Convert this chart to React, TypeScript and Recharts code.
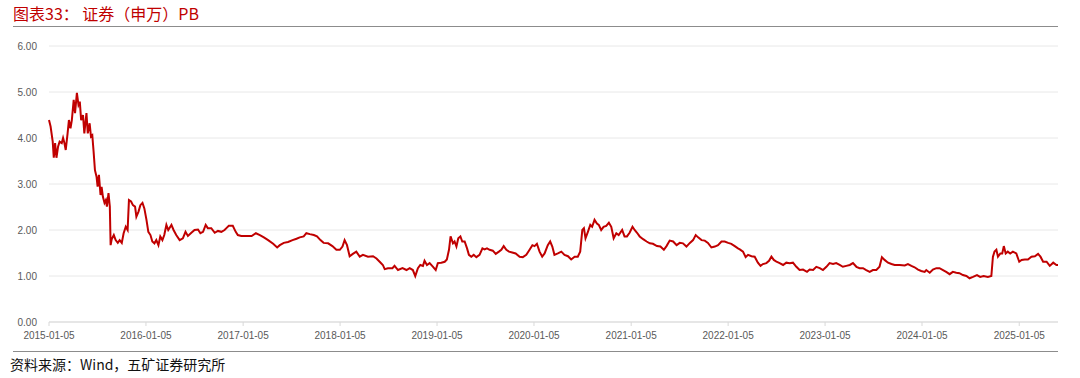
import React from 'react';
import { LineChart, Line, XAxis, YAxis, CartesianGrid } from 'recharts';

const dates: string[] = [
  '2015-01-05','2015-01-11','2015-01-19','2015-01-23','2015-01-28','2015-02-02','2015-02-08','2015-02-14','2015-02-22','2015-02-27',
  '2015-03-04','2015-03-09','2015-03-16','2015-03-21','2015-03-27','2015-04-01','2015-04-08','2015-04-13','2015-04-20','2015-04-26',
  '2015-05-01','2015-05-06','2015-05-13','2015-05-18','2015-05-26','2015-05-31','2015-06-07','2015-06-12','2015-06-17','2015-06-22',
  '2015-06-27','2015-07-03','2015-07-07','2015-07-12','2015-07-18','2015-07-22','2015-07-27','2015-08-02','2015-08-07','2015-08-11',
  '2015-08-17','2015-08-22','2015-08-25','2015-08-29','2015-09-06','2015-09-13','2015-09-21','2015-09-28','2015-10-06','2015-10-13',
  '2015-10-21','2015-10-28','2015-11-02','2015-11-10','2015-11-17','2015-11-25','2015-11-30','2015-12-08','2015-12-15','2015-12-23',
  '2015-12-30',
  '2016-01-07','2016-01-14','2016-01-22','2016-01-29','2016-02-06','2016-02-13','2016-02-21','2016-02-28','2016-03-07','2016-03-14',
  '2016-03-22','2016-03-29','2016-04-10','2016-04-18','2016-04-28','2016-05-11','2016-05-23','2016-06-02','2016-06-11','2016-06-24',
  '2016-07-06','2016-07-19','2016-07-28','2016-08-07','2016-08-17','2016-08-25','2016-09-07','2016-09-20','2016-10-02','2016-10-15',
  '2016-10-27','2016-11-03','2016-11-12','2016-11-27','2016-12-08','2016-12-16','2016-12-29',
  '2017-01-18','2017-02-06','2017-02-22','2017-03-09','2017-03-24','2017-04-09','2017-04-28','2017-05-13','2017-05-23','2017-06-07',
  '2017-06-23','2017-07-10','2017-07-25','2017-08-06','2017-08-21','2017-08-31','2017-09-13','2017-09-28','2017-10-10','2017-10-23',
  '2017-11-04','2017-11-21','2017-12-07','2017-12-22',
  '2018-01-04','2018-01-14','2018-01-22','2018-01-31','2018-02-10','2018-02-22','2018-03-07','2018-03-20','2018-04-01','2018-04-20',
  '2018-05-09','2018-05-22','2018-06-03','2018-06-15','2018-06-22','2018-07-04','2018-07-21','2018-07-29','2018-08-11','2018-08-28',
  '2018-09-12','2018-09-24','2018-10-06','2018-10-15','2018-10-25','2018-11-03','2018-11-13','2018-11-19','2018-11-28','2018-12-08',
  '2018-12-21','2018-12-31',
  '2019-01-08','2019-01-21','2019-02-03','2019-02-11','2019-02-19','2019-02-25','2019-03-06','2019-03-12','2019-03-19','2019-03-26',
  '2019-04-03','2019-04-10','2019-04-19','2019-04-28','2019-05-05','2019-05-14','2019-05-23','2019-06-02','2019-06-14','2019-06-25',
  '2019-07-03','2019-07-12','2019-07-22','2019-08-03','2019-08-14','2019-08-26','2019-09-04','2019-09-13','2019-09-23','2019-10-03',
  '2019-10-15','2019-10-28','2019-11-12','2019-11-24','2019-12-07','2019-12-17','2019-12-30',
  '2020-01-07','2020-01-16','2020-01-26','2020-02-05','2020-02-14','2020-02-26','2020-03-06','2020-03-14','2020-03-22','2020-04-04',
  '2020-04-17','2020-04-29','2020-05-12','2020-05-24','2020-06-06','2020-06-18','2020-06-27','2020-07-05','2020-07-11','2020-07-17',
  '2020-07-26','2020-08-04','2020-08-11','2020-08-20','2020-08-29','2020-09-05','2020-09-14','2020-09-23','2020-10-03','2020-10-13',
  '2020-10-22','2020-10-31','2020-11-10','2020-11-19','2020-12-02','2020-12-11','2020-12-20','2020-12-30',
  '2021-01-10','2021-01-18','2021-01-27','2021-02-06','2021-02-19','2021-03-04','2021-03-16','2021-03-28','2021-04-12','2021-04-25',
  '2021-05-08','2021-05-18','2021-05-30','2021-06-12','2021-06-25','2021-07-07','2021-07-19','2021-08-01','2021-08-14','2021-08-26',
  '2021-09-05','2021-09-14','2021-09-27','2021-10-09','2021-10-21','2021-11-03','2021-11-16','2021-11-28','2021-12-11','2021-12-23',
  '2022-01-05','2022-01-17','2022-01-30','2022-02-11','2022-02-18','2022-03-02','2022-03-12','2022-03-21','2022-04-03','2022-04-15',
  '2022-04-27','2022-05-07','2022-05-16','2022-05-29','2022-06-08','2022-06-17','2022-06-26','2022-07-06','2022-07-18','2022-07-31',
  '2022-08-12','2022-08-25','2022-09-06','2022-09-19','2022-10-01','2022-10-14','2022-10-29','2022-11-08','2022-11-21','2022-12-03',
  '2022-12-16','2022-12-28',
  '2023-01-10','2023-01-22','2023-02-04','2023-02-16','2023-03-01','2023-03-13','2023-03-26','2023-04-08','2023-04-20','2023-05-03',
  '2023-05-15','2023-05-28','2023-06-09','2023-06-22','2023-07-04','2023-07-17','2023-07-29','2023-08-07','2023-08-17','2023-08-30',
  '2023-09-12','2023-09-24','2023-10-13','2023-11-01','2023-11-13','2023-11-26','2023-12-08','2023-12-21',
  '2024-01-02','2024-01-15','2024-01-21','2024-02-03','2024-02-15','2024-02-28','2024-03-11','2024-03-24','2024-04-05','2024-04-18',
  '2024-04-30','2024-05-13','2024-05-25','2024-06-07','2024-06-20','2024-07-02','2024-07-15','2024-07-30','2024-08-11','2024-08-24',
  '2024-09-09','2024-09-22','2024-09-28','2024-10-04','2024-10-11','2024-10-17','2024-10-26','2024-11-02','2024-11-08','2024-11-15',
  '2024-11-23','2024-12-02','2024-12-12','2024-12-25',
  '2025-01-05','2025-01-14','2025-01-26','2025-02-07','2025-02-20','2025-03-05','2025-03-17','2025-03-26','2025-04-05','2025-04-18',
  '2025-04-30','2025-05-13','2025-05-25','2025-05-31',
];

const pbValues: number[] = [
  4.39,4.25,3.92,3.57,3.89,3.57,3.81,3.92,3.89,4.00,
  3.89,3.74,4.10,4.39,4.21,4.39,4.83,4.54,4.98,4.72,
  4.79,4.39,4.50,4.10,4.54,4.10,4.32,4.03,4.06,3.70,
  3.30,3.16,2.94,3.20,2.76,2.94,2.72,2.59,2.65,2.51,
  2.80,2.51,1.67,1.80,1.89,1.78,1.72,1.78,1.72,1.93,
  2.07,2.00,2.65,2.62,2.54,2.51,2.29,2.40,2.54,2.59,
  2.47,
  2.22,1.96,1.89,1.75,1.71,1.78,1.67,1.86,1.78,1.89,
  2.11,2.00,2.11,2.00,1.89,1.78,1.82,1.96,1.87,1.94,
  2.00,2.01,1.93,1.96,2.11,2.04,2.04,1.94,1.98,1.96,
  2.00,2.04,2.09,2.09,1.96,1.89,1.87,
  1.87,1.87,1.93,1.89,1.84,1.78,1.70,1.62,1.67,1.72,
  1.74,1.78,1.81,1.84,1.86,1.93,1.91,1.89,1.86,1.78,
  1.72,1.71,1.65,1.57,
  1.57,1.64,1.78,1.67,1.43,1.48,1.53,1.42,1.46,1.42,
  1.43,1.38,1.31,1.24,1.15,1.17,1.17,1.22,1.13,1.17,
  1.13,1.17,1.13,1.00,1.17,1.24,1.22,1.33,1.24,1.28,
  1.20,1.13,
  1.28,1.29,1.31,1.36,1.57,1.86,1.71,1.75,1.64,1.82,
  1.86,1.75,1.75,1.60,1.46,1.42,1.46,1.41,1.46,1.60,
  1.58,1.60,1.57,1.55,1.48,1.53,1.57,1.65,1.57,1.53,
  1.51,1.49,1.42,1.41,1.46,1.55,1.67,
  1.65,1.70,1.53,1.42,1.49,1.67,1.75,1.64,1.46,1.49,
  1.53,1.46,1.43,1.36,1.42,1.42,1.53,2.00,2.04,1.82,
  1.96,2.11,2.07,2.22,2.14,2.11,2.00,2.07,2.09,2.16,
  2.07,1.82,1.93,1.89,2.00,1.86,1.86,1.94,
  2.07,2.00,1.94,1.86,1.80,1.75,1.71,1.70,1.65,1.64,
  1.57,1.65,1.77,1.75,1.67,1.72,1.71,1.64,1.72,1.78,
  1.89,1.84,1.78,1.77,1.72,1.62,1.64,1.67,1.75,1.75,
  1.72,1.70,1.65,1.60,1.58,1.53,1.41,1.46,1.43,1.42,
  1.29,1.22,1.26,1.28,1.33,1.42,1.35,1.31,1.28,1.24,
  1.29,1.28,1.29,1.20,1.13,1.14,1.09,1.14,1.13,1.20,
  1.17,1.13,
  1.20,1.28,1.26,1.28,1.24,1.20,1.22,1.24,1.28,1.20,
  1.17,1.17,1.13,1.09,1.13,1.13,1.20,1.41,1.35,1.29,
  1.26,1.24,1.24,1.23,1.26,1.22,1.19,1.14,
  1.11,1.09,1.13,1.07,1.14,1.17,1.17,1.13,1.09,1.04,
  1.09,1.07,1.06,1.02,1.00,0.95,0.98,1.02,0.98,1.00,
  0.98,1.00,1.42,1.53,1.57,1.42,1.49,1.49,1.65,1.49,
  1.53,1.49,1.53,1.49,
  1.31,1.35,1.36,1.36,1.42,1.43,1.48,1.42,1.31,1.31,
  1.22,1.29,1.24,1.24,
];

const xTickLabels: string[] = [
  '2015-01-05','2016-01-05','2017-01-05','2018-01-05','2019-01-05','2020-01-05',
  '2021-01-05','2022-01-05','2023-01-05','2024-01-05','2025-01-05',
];
const yTicks: number[] = [0, 1, 2, 3, 4, 5, 6];

const toTs = (d: string) => Date.parse(d + 'T00:00:00Z');
const data = dates.map((d, i) => ({ t: toTs(d), v: pbValues[i] }));
const xTicks = xTickLabels.map(toTs);
const labelByTs: Record<number, string> = {};
xTickLabels.forEach((l) => { labelByTs[toTs(l)] = l; });

const RED = '#c00000';
const TICK_FONT = '"Liberation Sans", Arial, sans-serif';
const CJK_FONT = '"Noto Sans CJK SC", "Noto Sans", sans-serif';

export default function App() {
  return (
    <div style={{ position: 'absolute', left: 0, top: 0, width: 1080, height: 378, background: '#fff', overflow: 'hidden' }}>
      <div style={{ position: 'absolute', left: 13, top: 4, fontFamily: CJK_FONT, fontSize: 16, lineHeight: '18px', color: RED, whiteSpace: 'pre' }}>
        图表33： 证券（申万）PB
      </div>
      <div style={{ position: 'absolute', left: 13, top: 26, width: 1045, height: 1, background: '#8c8c8c' }} />
      <div style={{ position: 'absolute', left: 0, top: 0 }}>
        <LineChart width={1080} height={378} data={data} margin={{ top: 46, right: 22, bottom: 36, left: 0 }}>
          <CartesianGrid vertical={false} stroke="#e8e8e8" />
          <XAxis
            dataKey="t"
            type="number"
            scale="time"
            domain={['dataMin', 'dataMax']}
            ticks={xTicks}
            tickFormatter={(v: number) => labelByTs[v] ?? ''}
            height={20}
            axisLine={{ stroke: '#d9d9d9' }}
            tickLine={{ stroke: '#d9d9d9' }}
            tickSize={4}
            tickMargin={6}
            tick={{ fill: '#595959', fontSize: 10, fontFamily: TICK_FONT }}
            interval={0}
          />
          <YAxis
            domain={[0, 6]}
            ticks={yTicks}
            width={49}
            axisLine={false}
            tickLine={false}
            tickSize={0}
            tickMargin={12}
            tickFormatter={(v: number) => v.toFixed(2)}
            tick={{ fill: '#595959', fontSize: 10, fontFamily: TICK_FONT }}
          />
          <Line type="linear" dataKey="v" stroke={RED} strokeWidth={2} dot={false} isAnimationActive={false} />
        </LineChart>
      </div>
      <div style={{ position: 'absolute', left: 13, top: 351, width: 1045, height: 1, background: '#8c8c8c' }} />
      <div style={{ position: 'absolute', left: 10, top: 355, fontFamily: CJK_FONT, fontSize: 14, lineHeight: '18px', color: '#111', whiteSpace: 'pre' }}>
        资料来源：Wind，五矿证券研究所
      </div>
    </div>
  );
}
